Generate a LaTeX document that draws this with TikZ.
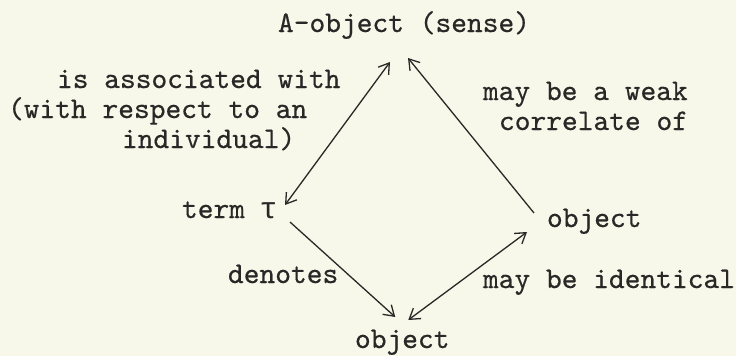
\documentclass[tikz,border=0pt]{standalone}
\usepackage{fontspec}
\setmonofont{lmmono10-regular.otf}[FakeBold=0.5]
\newfontfamily\taufont{Liberation Mono}
\usetikzlibrary{arrows.meta}
\definecolor{paper}{RGB}{247,248,234}
\definecolor{ink}{RGB}{40,40,38}
\begin{document}
\begin{tikzpicture}[x=1pt,y=-1pt,
  lbl/.style={anchor=base west, inner sep=0pt, outer sep=0pt, text=ink,
              font=\fontsize{30}{34}\selectfont\ttfamily\bfseries},
  conn/.style={draw=ink, line width=1.3pt},
  singlearrow/.style={conn, -{Straight Barb[length=10pt,width=13pt]}},
  dblarrow/.style={conn, {Straight Barb[length=10pt,width=13pt]}-{Straight Barb[length=10pt,width=13pt]}}
]
\fill[paper] (0,0) rectangle (736,356);
\useasboundingbox (0,0) rectangle (736,356);

% main nodes
\node[lbl] (sense) at (278,32) {A-object (sense)};
\node[lbl] (term)  at (182,218) {term {\taufont\mdseries\makebox[0.525em][c]{τ}}};
\node[lbl] (objR)  at (547,227) {object};
\node[lbl] (objB)  at (355,348) {object};

% labels
\node[lbl] (assocA) at (57,88)  {is associated with};
\node[lbl] (assocB) at (8,118)  {(with respect to an};
\node[lbl] (assocC) at (122,148) {individual)};
\node[lbl] (weakA)  at (483,100) {may be a weak};
\node[lbl] (weakB)  at (499,130) {correlate of};
\node[lbl] (denot)  at (228,283) {denotes};
\node[lbl] (ident)  at (483,288) {may be identical};

% connectors
\draw[dblarrow] ([shift={(8.5,-13)}]term.base east) -- ([shift={(-14,30)}]sense.base);
\draw[singlearrow] ([shift={(-13,-14)}]objR.base west) -- ([shift={(4,26)}]sense.base);
\draw[singlearrow] ([shift={(13.5,4)}]term.base east) -- ([shift={(-7,-31)}]objB.base);
\draw[dblarrow] ([shift={(6,-28)}]objB.base) -- ([shift={(-20,5)}]objR.base west);
\end{tikzpicture}
\end{document}
